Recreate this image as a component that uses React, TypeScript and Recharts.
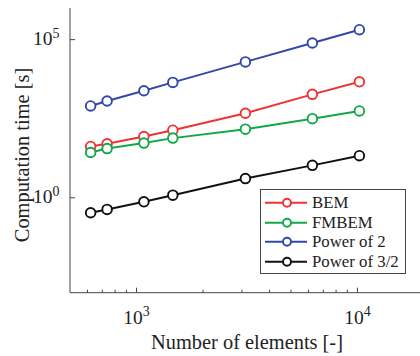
import { LineChart, Line, XAxis, YAxis, Legend } from "recharts";

// number of elements (x) and computation times [s]
const elements = [620, 736, 1080, 1460, 3110, 6250, 10200];
const bem = [42, 51, 86.5, 137, 471, 1862, 4645];
const fmbem = [27, 36, 53.7, 77, 148, 318, 556];
const power2 = [800, 1148, 2420, 4446, 19770, 78200, 206000];
const power32 = [0.337, 0.429, 0.748, 1.21, 4.05, 10.6, 21.4];

const xTicks = [600, 700, 800, 900, 1000, 2000, 3000, 4000, 5000, 6000, 7000, 8000, 9000, 10000];
const xMajor = [1000, 10000];
const yTicks = [1, 100000];

const FONT = '"Liberation Serif", "Times New Roman", serif';
const AXIS = "#444";
const TEXT = "#222";

const series = [
  { key: "bem", name: "BEM", color: "#ee3333" },
  { key: "fmbem", name: "FMBEM", color: "#12a84a" },
  { key: "power2", name: "Power of 2", color: "#3347aa" },
  { key: "power32", name: "Power of 3/2", color: "#111111" },
];

const data = elements.map((n, i) => ({
  n,
  bem: bem[i],
  fmbem: fmbem[i],
  power2: power2[i],
  power32: power32[i],
}));

const exp10 = (v: number) => Math.round(Math.log10(v));

const BottomTick = ({ x, y, payload }: any) => {
  const major = xMajor.includes(payload.value);
  return (
    <g>
      <line x1={x} x2={x} y1={y} y2={y - (major ? 5 : 3)} stroke={AXIS} />
      {major && (
        <text x={x} y={y + 31.5} textAnchor="middle" fontFamily={FONT} fontSize={19.5} fill={TEXT}>
          10
          <tspan dy={-8} fontSize={14}>
            {exp10(payload.value)}
          </tspan>
        </text>
      )}
    </g>
  );
};

const TopTick = ({ x, y, payload }: any) => {
  const major = xMajor.includes(payload.value);
  return <line x1={x} x2={x} y1={y} y2={y + (major ? 5 : 3)} stroke={AXIS} />;
};

const LeftTick = ({ x, y, payload }: any) => (
  <g>
    <line x1={x} x2={x + 5} y1={y} y2={y} stroke={AXIS} />
    <text x={x - 10.5} y={y + 5.5} textAnchor="end" fontFamily={FONT} fontSize={19.5} fill={TEXT}>
      10
      <tspan dy={-7.5} fontSize={14}>
        {exp10(payload.value)}
      </tspan>
    </text>
  </g>
);

const LegendBox = () => (
  <div
    style={{
      border: `1px solid ${AXIS}`,
      background: "#fff",
      boxSizing: "border-box",
      width: 146,
      height: 85,
      paddingTop: 3,
      fontFamily: FONT,
      fontSize: 16.8,
      color: TEXT,
    }}
  >
    {series.map((s) => (
      <div key={s.key} style={{ display: "flex", alignItems: "center", height: 19.5 }}>
        <svg width={51} height={19.5} style={{ flex: "none" }}>
          <line x1={4} x2={46} y1={9.75} y2={9.75} stroke={s.color} strokeWidth={2} />
          <circle cx={26} cy={9.75} r={4} stroke={s.color} strokeWidth={1.9} fill="#fff" />
        </svg>
        <span style={{ lineHeight: "19.5px", whiteSpace: "nowrap" }}>{s.name}</span>
      </div>
    ))}
  </div>
);

export default function App() {
  return (
    <div
      style={{
        position: "absolute",
        left: 0,
        top: 0,
        width: 420,
        height: 356,
        overflow: "hidden",
        background: "#fff",
      }}
    >
      <LineChart width={430} height={356} data={data} margin={{ top: 8, right: 6, bottom: 0, left: 0 }}>
        <XAxis
          dataKey="n"
          type="number"
          scale="log"
          domain={[500, 20000]}
          allowDataOverflow
          ticks={xTicks}
          interval={0}
          tick={<BottomTick />}
          tickSize={0}
          tickMargin={0}
          height={63.3}
          axisLine={{ stroke: AXIS }}
          label={({ viewBox }: any) => (
            <text
              x={viewBox.x + viewBox.width / 2}
              y={348.5}
              textAnchor="middle"
              fontFamily={FONT}
              fontSize={20.4}
              fill={TEXT}
            >
              Number of elements [-]
            </text>
          )}
        />
        <XAxis
          xAxisId="top"
          orientation="top"
          dataKey="n"
          type="number"
          scale="log"
          domain={[500, 20000]}
          allowDataOverflow
          ticks={xTicks}
          interval={0}
          tick={<TopTick />}
          tickSize={0}
          tickMargin={0}
          height={0}
          axisLine={{ stroke: AXIS }}
        />
        <YAxis
          type="number"
          scale="log"
          domain={[0.001, 1000000]}
          allowDataOverflow
          ticks={yTicks}
          interval={0}
          tick={<LeftTick />}
          tickSize={0}
          tickMargin={0}
          width={70}
          axisLine={{ stroke: AXIS }}
          label={() => (
            <text
              x={29}
              y={155}
              transform="rotate(-90, 29, 155)"
              textAnchor="middle"
              fontFamily={FONT}
              fontSize={20.4}
              fill={TEXT}
            >
              Computation time [s]
            </text>
          )}
        />
        {series.map((s) => (
          <Line
            key={s.key}
            dataKey={s.key}
            name={s.name}
            stroke={s.color}
            strokeWidth={2}
            dot={{ r: 4.8, stroke: s.color, strokeWidth: 1.9, fill: "#fff" }}
            isAnimationActive={false}
          />
        ))}
        <Legend
          layout="vertical"
          align="center"
          verticalAlign="middle"
          content={() => <LegendBox />}
          wrapperStyle={{ left: 260, top: 189, width: 146, height: 85 }}
        />
      </LineChart>
    </div>
  );
}
